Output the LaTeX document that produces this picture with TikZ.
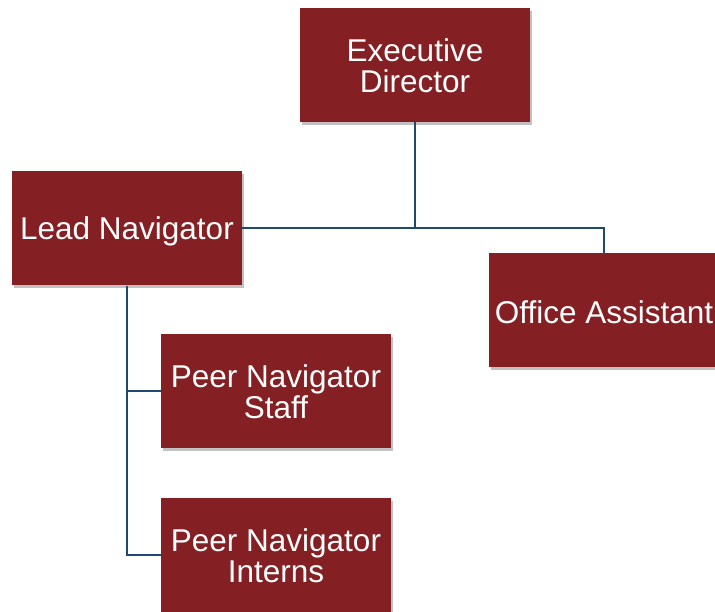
\documentclass[tikz,border=0pt]{standalone}
\usepackage{fontspec}
\setmainfont{Liberation Sans}
\usetikzlibrary{shadows}
\definecolor{boxred}{RGB}{132,32,35}
\definecolor{linkblue}{RGB}{31,73,110}
\begin{document}
\begin{tikzpicture}[x=1pt,y=-1pt,
  orgbox/.style={rectangle, fill=boxred, text=white, minimum width=230pt, minimum height=114pt,
    inner sep=0pt, align=center, font=\fontsize{31.5}{31}\selectfont,
    drop shadow={shadow xshift=2pt, shadow yshift=-3pt, opacity=0.35, fill=black!70}},
  txt/.style={text=white, align=center, font=\fontsize{31.5}{31}\selectfont, inner sep=0pt},
  link/.style={draw=linkblue, line width=1.6pt}]
\useasboundingbox (0,0) rectangle (715,612);
\node[orgbox] (ed) at (415,65) {};
\node[orgbox] (ln) at (127,228.5) {};
\node[orgbox] (oa) at (604,310) {};
\node[orgbox] (ps) at (276,391) {};
\node[orgbox] (pi) at (276,555) {};
\node[txt] (edt) at (415,66) {Executive\\Director};
\node[txt] (lnt) at (127,231) {Lead Navigator};
\node[txt] (oat) at (604,312) {Office Assistant};
\node[txt] (pst) at (276,392) {Peer Navigator\\Staff};
\node[txt] (pit) at (276,556) {Peer Navigator\\Interns};
\coordinate (j1) at (415,228);
\draw[link] (ed.south) -- (j1);
\draw[link] (ln.east |- j1) -- (j1) -| (oa.north);
\draw[link] (ln.south) |- (pi.west);
\draw[link] (ln.south |- ps.west) -- (ps.west);
\end{tikzpicture}
\end{document}
